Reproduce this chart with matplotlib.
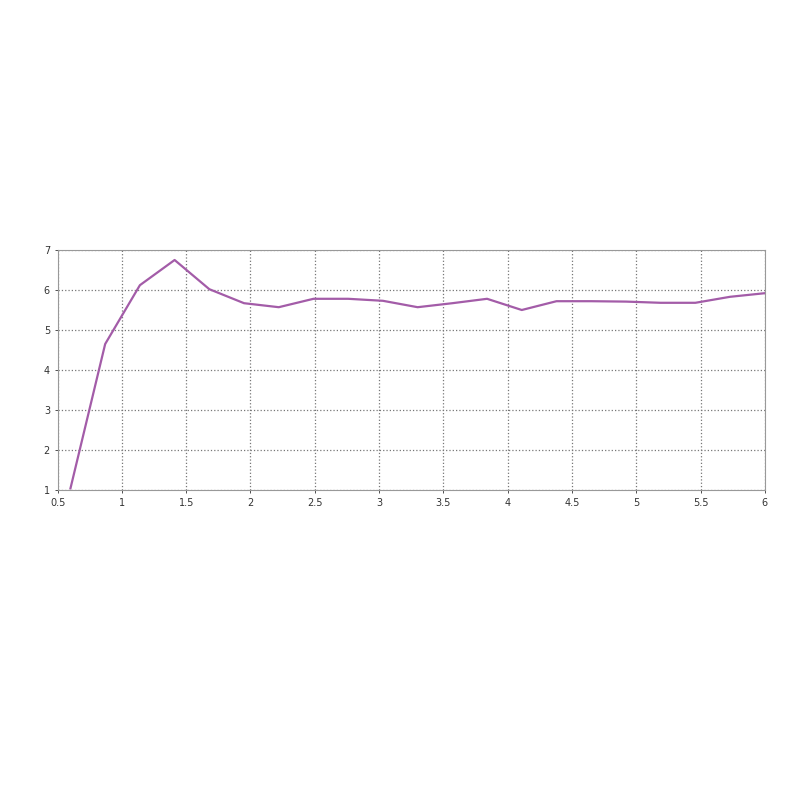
import numpy as np
import matplotlib.pyplot as plt

# values
x_vals = [0.60, 0.87, 1.14, 1.41, 1.68, 1.95, 2.22, 2.49, 2.76, 3.03, 3.30,
          3.57, 3.84, 4.11, 4.38, 4.65, 4.92, 5.19, 5.46, 5.73, 6.00]
y_vals = [1.04, 4.65, 6.12, 6.75, 6.02, 5.67, 5.57, 5.78, 5.78, 5.73, 5.57,
          5.67, 5.78, 5.50, 5.72, 5.72, 5.71, 5.68, 5.68, 5.83, 5.92]
x_ticks = [0.5, 1, 1.5, 2, 2.5, 3, 3.5, 4, 4.5, 5, 5.5, 6]
x_tick_labels = ["0.5", "1", "1.5", "2", "2.5", "3", "3.5", "4", "4.5", "5", "5.5", "6"]
y_ticks = [1, 2, 3, 4, 5, 6, 7]

fig = plt.figure(figsize=(8, 8), dpi=100)
ax = fig.add_axes([0.072, 0.3875, 0.884, 0.3])

ax.plot(x_vals, y_vals, color='#a35ca8', linewidth=1.6)

ax.set_xlim(0.5, 6)
ax.set_ylim(1, 7)
ax.set_xticks(x_ticks)
ax.set_xticklabels(x_tick_labels)
ax.set_yticks(y_ticks)
ax.tick_params(labelsize=7, colors='#333333', length=2, width=0.6)
ax.grid(True, linestyle=':', color='#777777', linewidth=0.9)
for s in ax.spines.values():
    s.set_color('#999999')
    s.set_linewidth(0.8)

plt.savefig("out.png", dpi=100)
